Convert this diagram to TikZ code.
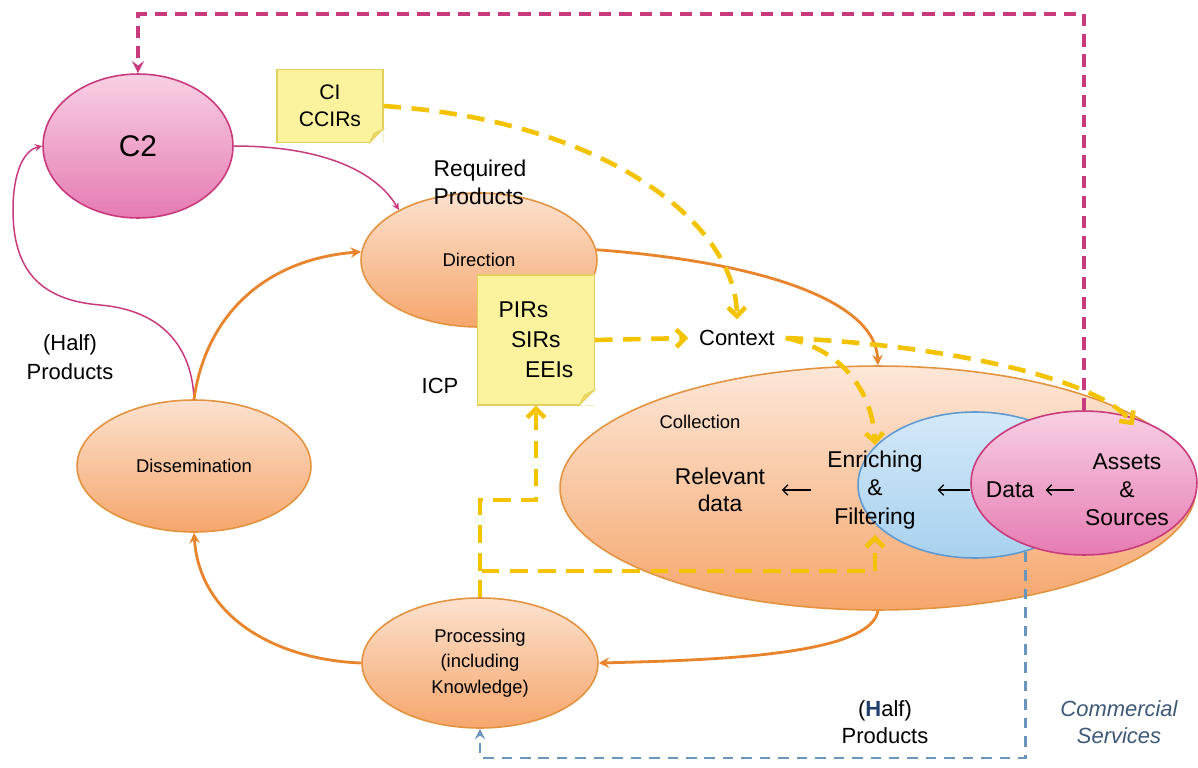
\documentclass[tikz,border=0pt]{standalone}
\usepackage{fontspec}
\setmainfont{Liberation Sans}
\usetikzlibrary{shapes.geometric, arrows.meta}

\definecolor{orangeedge}{HTML}{E3923F}
\definecolor{orangetop}{HTML}{FCE1CE}
\definecolor{orangebot}{HTML}{F5A66C}
\definecolor{orangeline}{HTML}{E8842C}
\definecolor{magline}{HTML}{C93A7C}
\definecolor{pinktop}{HTML}{F8D0E3}
\definecolor{pinkbot}{HTML}{E57BB2}
\definecolor{bluetop}{HTML}{D3E9F8}
\definecolor{bluebot}{HTML}{A8D1EF}
\definecolor{blueedge}{HTML}{5E9AD0}
\definecolor{notefill}{HTML}{FBF29E}
\definecolor{notedge}{HTML}{E2CF5C}
\definecolor{notefold}{HTML}{EBD865}
\definecolor{ydash}{HTML}{F3C300}
\definecolor{blueline}{HTML}{6A95BC}
\definecolor{servtext}{HTML}{3E5878}
\definecolor{halfblue}{HTML}{1F3F6E}

\begin{document}
\begin{tikzpicture}[x=0.02cm, y=-0.02cm, >=stealth,
  phase/.style={ellipse, draw=orangeedge, line width=0.9pt, top color=orangetop, bottom color=orangebot, inner sep=0pt, align=center, font=\fontsize{10.5}{14.5}\selectfont},
  pinkball/.style={ellipse, draw=magline, line width=0.9pt, top color=pinktop, bottom color=pinkbot, inner sep=0pt},
  sticky/.style={rectangle, draw=notedge, line width=0.6pt, fill=notefill, inner sep=0pt},
  txt/.style={align=center, font=\fontsize{13}{16}\selectfont},
  loopline/.style={->, draw=orangeline, line width=1.6pt},
  feedline/.style={->, draw=magline, line width=0.85pt},
  yellowdash/.style={draw=ydash, line width=2.6pt, dash pattern=on 10pt off 6pt, -{Straight Barb[length=5pt,width=10pt]}},
  magdash/.style={->, draw=magline, line width=2pt, dash pattern=on 7pt off 4.5pt},
  bluedash/.style={->, draw=blueline, line width=1.6pt, dash pattern=on 6pt off 4.5pt},
  tinyarrow/.style={{Straight Barb[length=3pt,width=6pt]}-, line width=0.7pt}
]
\useasboundingbox (0,0) rectangle (1198,768);

\node[pinkball, minimum width=3.8cm, minimum height=2.88cm, font=\fontsize{17}{20}\selectfont] (c2) at (138,146) {C2};
\node[phase, minimum width=4.72cm, minimum height=2.68cm] (dir) at (479,260) {Direction};
\node[phase, minimum width=4.68cm, minimum height=2.64cm] (diss) at (194,466) {Dissemination};
\node[phase, minimum width=4.72cm, minimum height=2.6cm] (proc) at (480,663) {Processing\\(including\\Knowledge)};
\node[phase, minimum width=12.72cm, minimum height=4.88cm, top color=orangetop!80!white] (coll) at (878,488) {};
\node[ellipse, draw=blueedge, line width=0.9pt, top color=bluetop, bottom color=bluebot, minimum width=4.68cm, minimum height=2.92cm] (filt) at (975,485) {};
\node[pinkball, minimum width=4.52cm, minimum height=2.88cm] (assets) at (1084,483) {};

\node[sticky, minimum width=2.12cm, minimum height=1.46cm, align=center, font=\fontsize{12}{15.5}\selectfont] (ci) at (330,106) {CI\\CCIRs};
\fill[white] ([xshift=-8pt]ci.south east) -- (ci.south east) -- ([yshift=8pt]ci.south east) -- cycle;
\filldraw[draw=notedge, fill=notefold] ([xshift=-8pt]ci.south east) -- ([yshift=8pt]ci.south east) -- ([xshift=-5.5pt,yshift=5.5pt]ci.south east) -- cycle;

\node[sticky, minimum width=2.34cm, minimum height=2.6cm, align=left, font=\fontsize{13}{17}\selectfont] (pirs) at (536,340) {PIRs\\\hspace*{7pt}SIRs\\\hspace*{15pt}EEIs};
\fill[white] ([xshift=-9pt]pirs.south east) -- (pirs.south east) -- ([yshift=9pt]pirs.south east) -- cycle;
\filldraw[draw=notedge, fill=notefold] ([xshift=-9pt]pirs.south east) -- ([yshift=9pt]pirs.south east) -- ([xshift=-6pt,yshift=6pt]pirs.south east) -- cycle;

\node[txt, align=left] (req) at (480,182) {Required\\Products};
\node[txt, font=\fontsize{12.5}{15}\selectfont, inner sep=6pt] (ctx) at (737,338) {Context};
\node[txt, font=\fontsize{12.5}{15}\selectfont] (icp) at (440,386) {ICP};
\node[txt, font=\fontsize{12.5}{16.5}\selectfont] (half1) at (70,357) {(Half)\\Products};
\node[font=\fontsize{10.5}{12}\selectfont] (colltext) at (700,422) {Collection};
\node[txt, font=\fontsize{13}{15}\selectfont] (rel) at (720,490) {Relevant\\data};
\node[txt] (enr) at (875,490) {Enriching\\\&\\Filtering};
\node[txt] (data) at (1010,490) {Data};
\node[txt] (src) at (1127,490) {Assets\\\&\\Sources};
\node[txt, font=\fontsize{12.5}{15.5}\selectfont] (half2) at (885,722) {({\bfseries\color{halfblue}H}alf)\\Products};
\node[txt, font=\fontsize{12.5}{15.5}\selectfont\itshape, text=servtext] (serv) at (1119,722) {Commercial\\Services};

\draw[tinyarrow, shorten <=6pt, shorten >=6pt] (rel.east) -- (enr.west);
\draw[tinyarrow, shorten <=5pt, shorten >=5.5pt] (enr.east) -- (data.west);
\draw[tinyarrow, shorten <=3pt, shorten >=3pt] (data.east) -- (src.west);

\draw[magdash] (assets.north) -- (assets.north |- 0,14) -| (c2.north);
\draw[feedline] (c2.east) .. controls (320,146) and (375,170) .. (dir.148);
\draw[feedline] (diss.north) .. controls (192,345) and (160,310) .. (100,305) .. controls (40,300) and (13,270) .. (13,210) .. controls (13,170) and (25,150) .. (c2.west);

\draw[loopline] (diss.north) .. controls (205,320) and (260,260) .. (dir.176);
\draw[loopline] (dir.5) .. controls (760,262) and (875,300) .. (coll.north);
\draw[loopline] (coll.south) .. controls (870,655) and (720,660) .. (proc.east);
\draw[loopline] (proc.west) .. controls (280,660) and (200,620) .. (diss.south);

\draw[yellowdash] (ci.east) .. controls (600,120) and (735,220) .. (ctx.north);
\draw[yellowdash] (pirs.east) -- (ctx.west);
\draw[yellowdash, shorten >=-7pt] (ctx.east) .. controls (950,345) and (1100,380) .. (assets.58);
\draw[yellowdash] (ctx.east) .. controls (845,350) and (873,395) .. (enr.north);
\coordinate (split) at (proc.north |- 0,571);
\draw[yellowdash] (proc.north) -- (split) -| (enr.south);
\draw[yellowdash] (split) -- ++(0,-71) -| (pirs.south);

\coordinate (blueout) at (filt.-53);
\draw[bluedash] (blueout) -- (blueout |- 0,758) -| (proc.south);

\end{tikzpicture}
\end{document}
